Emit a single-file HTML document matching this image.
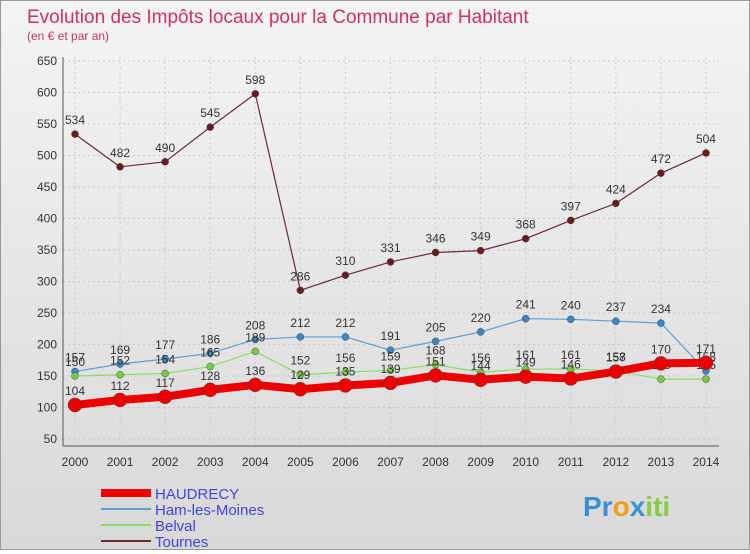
<!DOCTYPE html>
<html><head><meta charset="utf-8"><style>
body{margin:0;width:750px;height:550px;overflow:hidden;font-family:"Liberation Sans",sans-serif}
#wrap{position:relative;width:748px;height:548px;border:1px solid #999;background:linear-gradient(#f4f4f4,#d8d8d8)}
</style></head><body>
<div id="wrap">
<svg id="chart" width="748" height="548"></svg>
</div>
<script>
const years=[2000,2001,2002,2003,2004,2005,2006,2007,2008,2009,2010,2011,2012,2013,2014];
const haudrecy=[104,112,117,128,136,129,135,139,151,144,149,146,157,170,171];
const ham=[157,169,177,186,208,212,212,191,205,220,241,240,237,234,158];
const belval=[150,152,154,165,189,152,156,159,168,156,161,161,158,145,145];
const tournes=[534,482,490,545,598,286,310,331,346,349,368,397,424,472,504];
const yTicks=[50,100,150,200,250,300,350,400,450,500,550,600,650];
const NS='http://www.w3.org/2000/svg';
const svg=document.getElementById('chart');
const x=i=>74+i*45.07;
const y=v=>438-(v-50)*0.63;
function mk(t,a,p){const e=document.createElementNS(NS,t);for(const k in a)e.setAttribute(k,a[k]);(p||svg).appendChild(e);return e;}
let t=mk('text',{x:26,y:22,'font-size':19,fill:'#d0306a'});t.textContent='Evolution des Impôts locaux pour la Commune par Habitant';

t=mk('text',{x:26,y:39,'font-size':12,fill:'#d0306a'});t.textContent='(en € et par an)';

// grid
yTicks.forEach(v=>{
 const l=mk('line',{x1:62,x2:718,y1:y(v),y2:y(v),stroke:'#c8c8c8','stroke-dasharray':'2,3'});
 
 const tx=mk('text',{x:56,y:y(v)+4,'font-size':12,fill:'#333','text-anchor':'end'});tx.textContent=v;
 
});
years.forEach((yr,i)=>{
 const l=mk('line',{x1:x(i),x2:x(i),y1:56,y2:445,stroke:'#c8c8c8','stroke-dasharray':'2,3'});
 
 const tx=mk('text',{x:x(i),y:465,'font-size':12,fill:'#333','text-anchor':'middle'});tx.textContent=yr;
 
});
let ax=mk('line',{x1:62,x2:62,y1:56,y2:445,stroke:'#555'});
ax=mk('line',{x1:62,x2:718,y1:445,y2:445,stroke:'#555'});
function series(d,color,w,r,name,dot){
 const g=mk('g',{});
 mk('polyline',{points:d.map((v,i)=>x(i)+','+y(v)).join(' '),fill:'none',stroke:color,'stroke-width':w},g);
 d.forEach((v,i)=>{
  const c=mk('circle',{cx:x(i),cy:y(v),r:r,fill:dot,stroke:'#444','stroke-width':0.5},g);
  
  const tx=mk('text',{x:x(i),y:y(v)-10,'font-size':12,fill:'#333','text-anchor':'middle'},g);tx.textContent=v;
  
 });
}
series(tournes,'#6b2a32',1.2,3.5,'series-tournes','#6b1a22');
series(ham,'#5a9fd6',1.2,3.5,'series-ham-les-moines','#3a86c8');
series(belval,'#88dd66',1.2,3.5,'series-belval','#77cc44');
series(haudrecy,'#ee0000',8,7,'series-haudrecy','#ee0000');
const leg=[['HAUDRECY','#ee0000',8],['Ham-les-Moines','#5a9fd6',2],['Belval','#88dd66',2],['Tournes','#6b2a32',2]];
leg.forEach((e,i)=>{
 const g=mk('g',{});
 const yy=492+i*16;
 mk('line',{x1:100,x2:150,y1:yy,y2:yy,stroke:e[1],'stroke-width':e[2]},g);
 const tx=mk('text',{x:154,y:yy+6,'font-size':15,fill:'#4444dd'},g);tx.textContent=e[0];
});
const logo=mk('text',{x:582,y:515,'font-size':28,'font-weight':'bold',fill:'#f39c12'});
logo.innerHTML='<tspan fill="#3a8fd6">Pr</tspan><tspan fill="#f39c12">o</tspan><tspan fill="#3a8fd6">x</tspan><tspan fill="#88cc44">iti</tspan>';

</script>
</body></html>
